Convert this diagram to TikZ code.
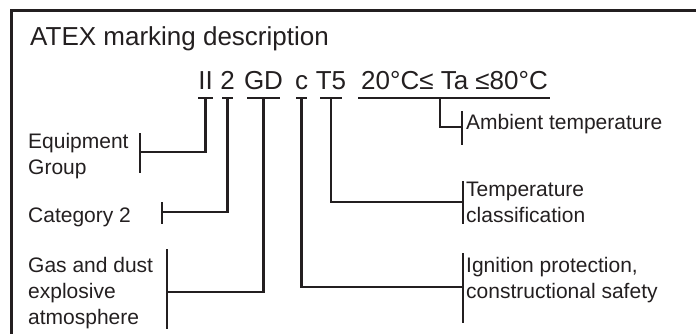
\documentclass[tikz,border=0pt]{standalone}
\usepackage{fontspec}
\setmainfont{Liberation Sans}
\definecolor{ink}{HTML}{231F20}
\begin{document}
\begin{tikzpicture}[x=1pt,y=-1pt,
  ln/.style={line width=2.3pt,draw=ink},
  frame/.style={line width=3pt,draw=ink},
  lbl/.style={font=\fontsize{21}{25}\selectfont,anchor=base west,inner sep=0pt,text=ink},
  sym/.style={font=\fontsize{26}{30}\selectfont,anchor=base,inner sep=0pt,text=ink},
  ttl/.style={font=\fontsize{26}{30}\selectfont,anchor=base west,inner sep=0pt,text=ink}]
\useasboundingbox (0,0) rectangle (696,333);
% frame (clipped at right and bottom)
\coordinate (fr) at (700,10);
\coordinate (fc) at (11.5,10);
\coordinate (fb) at (11.5,340);
\draw[frame] (fr) -- (fc) -- (fb);
% title
\node[ttl] (title) at (30,45) {ATEX marking description};
% marking symbols
\coordinate (bar) at (0,98);
\node[sym] (II) at (205.5,89) {II};
\node[sym] (two) at (227.5,89) {2};
\node[sym] (GD) at (263.5,89) {GD};
\node[sym] (c) at (301.5,89) {c};
\node[sym] (T5) at (331,89) {T5};
\node[ttl] (ta) at (361,89) {20°C≤ Ta ≤80°C};
% bars under symbols
\draw[ln] ([xshift=-7.5pt]II.base |- bar) -- ([xshift=7.5pt]II.base |- bar);
\draw[ln] ([xshift=-5.5pt]two.base |- bar) -- ([xshift=5.5pt]two.base |- bar);
\draw[ln] ([xshift=-16.5pt]GD.base |- bar) -- ([xshift=16.5pt]GD.base |- bar);
\draw[ln] ([xshift=-5.5pt]c.base |- bar) -- ([xshift=5.5pt]c.base |- bar);
\draw[ln] ([xshift=-11pt]T5.base |- bar) -- ([xshift=11pt]T5.base |- bar);
\draw[ln] ([xshift=-3pt]ta.west |- bar) -- ([xshift=2pt]ta.east |- bar);
% labels
\node[lbl] (eq1) at (28,148) {Equipment};
\node[lbl] (eq2) at (28,174) {Group};
\node[lbl] (cat) at (28,222) {Category 2};
\node[lbl] (gas1) at (28,272) {Gas and dust};
\node[lbl] (gas2) at (28,298) {explosive};
\node[lbl] (gas3) at (28,324) {atmosphere};
\node[lbl] (amb) at (466,129) {Ambient temperature};
\node[lbl] (tmp1) at (466,196) {Temperature};
\node[lbl] (tmp2) at (466,222) {classification};
\node[lbl] (ign1) at (466,272) {Ignition protection,};
\node[lbl] (ign2) at (466,298) {constructional safety};
% brackets
\coordinate (eqb) at (140,152);
\coordinate (catb) at (162,212);
\coordinate (gasb) at (167,292);
\coordinate (ambb) at (462,127);
\coordinate (tmpb) at (463,202);
\coordinate (ignb) at (463,287);
\coordinate (ambc) at (440,98);
\draw[ln] (140,133) -- (140,173);
\draw[ln] (162,202) -- (162,224);
\draw[ln] (167,249) -- (167,329);
\draw[ln] (462,111) -- (462,145);
\draw[ln] (463,181) -- (463,224);
\draw[ln] (463,253) -- (463,323);
% connectors
\draw[ln] (II.base |- bar) -- (II.base |- eqb) -- (eqb);
\draw[ln] (two.base |- bar) -- (two.base |- catb) -- (catb);
\draw[ln] (GD.base |- bar) -- (GD.base |- gasb) -- (gasb);
\draw[ln] (c.base |- bar) -- (c.base |- ignb) -- (ignb);
\draw[ln] (T5.base |- bar) -- (T5.base |- tmpb) -- (tmpb);
\draw[ln] (ambc) -- (ambc |- ambb) -- (ambb);
\end{tikzpicture}
\end{document}
